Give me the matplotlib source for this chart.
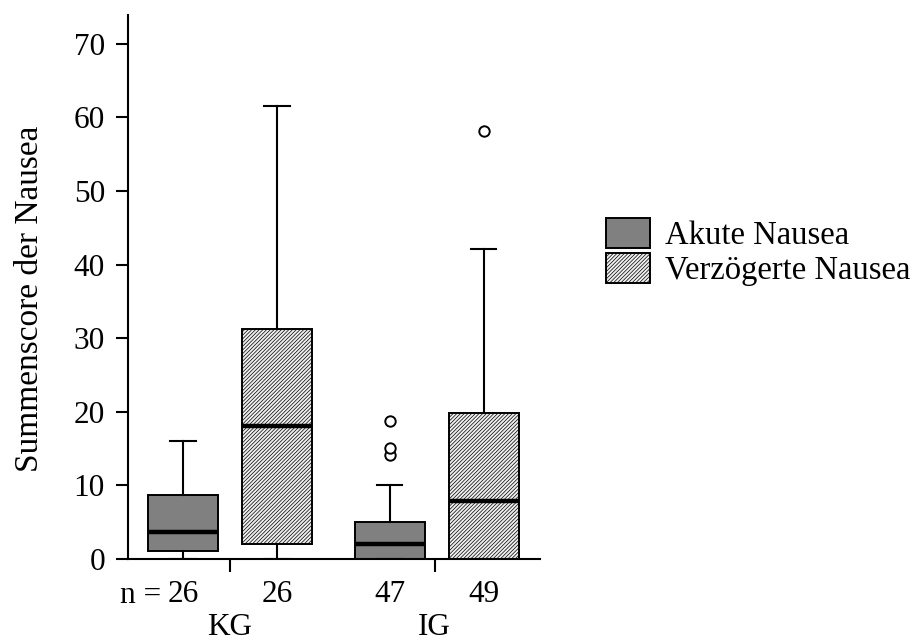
import matplotlib
matplotlib.use("Agg")
import matplotlib.pyplot as plt
from matplotlib.patches import Patch

plt.rcParams["font.family"] = ["Liberation Serif", "DejaVu Serif"]
plt.rcParams["hatch.color"] = "#7a7a7a"
plt.rcParams["hatch.linewidth"] = 0.5

# box statistics per group (KG akut, KG verzoegert, IG akut, IG verzoegert)
n_labels = ["26", "26", "47", "49"]
group_names = ["KG", "IG"]
series_names = ["Akute Nausea", "Verzögerte Nausea"]
q1 = [1.1, 2.0, 0.0, 0.0]
medians = [3.7, 18.0, 2.0, 7.9]
q3 = [8.7, 31.3, 5.0, 19.8]
whis_lo = [0.0, 0.0, 0.0, 0.0]
whis_hi = [16.0, 61.6, 10.0, 42.1]
outliers = [[], [], [14.1, 15.1, 18.7], [58.2]]

positions = [1, 2, 3.2, 4.2]
group_pos = [1.5, 3.68]

akut_color = "#808080"
verz_color = "#eeeeee"
verz_hatch = "/" * 9

fig = plt.figure(figsize=(9.24, 6.42), dpi=100)
ax = fig.add_axes([128 / 924, 1 - 559 / 642, 412 / 924, 544 / 642])

stats = []
for i in range(4):
    stats.append(dict(q1=q1[i], med=medians[i], q3=q3[i],
                      whislo=whis_lo[i], whishi=whis_hi[i], fliers=outliers[i]))

bp = ax.bxp(stats, positions=positions, widths=0.745, patch_artist=True,
            showcaps=True, capwidths=0.27,
            boxprops=dict(linewidth=1.4, edgecolor="black"),
            whiskerprops=dict(linewidth=1.5, color="black"),
            capprops=dict(linewidth=1.5, color="black"),
            medianprops=dict(linewidth=3.2, color="black", solid_capstyle="butt"),
            flierprops=dict(marker="o", markersize=7.5, markerfacecolor="white",
                            markeredgecolor="black", markeredgewidth=1.4))

for i, box in enumerate(bp["boxes"]):
    if i % 2 == 0:
        box.set_facecolor(akut_color)
    else:
        box.set_facecolor(verz_color)
        box.set_hatch(verz_hatch)

ax.set_xlim(0.415, 4.8)
ax.set_ylim(0, 73.9)
ax.set_yticks(range(0, 71, 10))
ax.spines["top"].set_visible(False)
ax.spines["right"].set_visible(False)
ax.spines["left"].set_linewidth(1.5)
ax.spines["bottom"].set_linewidth(1.5)
ax.tick_params(axis="y", labelsize=22.5, length=8.6, width=1.5, pad=8)

ax.set_xticks(positions)
ax.set_xticklabels(n_labels)
ax.tick_params(axis="x", which="major", length=0, labelsize=22.5, pad=15)
ax.set_xticks(group_pos, minor=True)
ax.tick_params(axis="x", which="minor", length=9, width=1.5)

# "n =" prefix before the first count
ax.text(0.77, -6.0, "n =", ha="right", va="baseline", fontsize=22.5, clip_on=False)
for x, name in zip(group_pos, group_names):
    ax.text(x, -10.3, name, ha="center", va="baseline", fontsize=22.5, clip_on=False)

fig.text(30 / 924, 1 - 299 / 642, "Summenscore der Nausea", rotation=90,
         ha="center", va="center", fontsize=24)

handles = [Patch(facecolor=akut_color, edgecolor="black", linewidth=1.4),
           Patch(facecolor=verz_color, edgecolor="black", linewidth=1.4, hatch=verz_hatch)]
fig.legend(handles, series_names, loc="upper left",
           bbox_to_anchor=(606 / 924, 1 - 218 / 642), frameon=False, fontsize=23.5,
           handlelength=1.35, handleheight=1.04, handletextpad=0.46,
           labelspacing=0.05, borderpad=0, borderaxespad=0)

fig.savefig("out.png", dpi=100)
